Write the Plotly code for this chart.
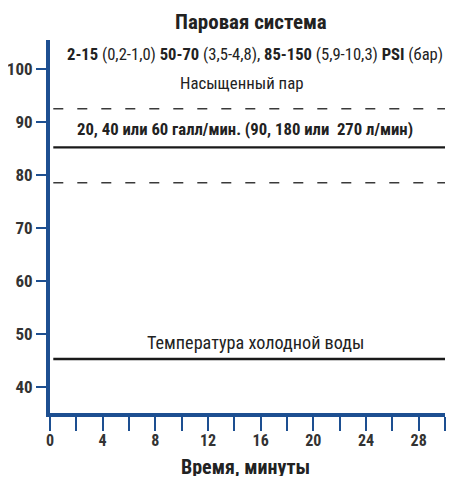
import plotly.graph_objects as go

# Data
line_names = ["Насыщенный пар (верх)", "Подача", "Насыщенный пар (низ)", "Температура холодной воды"]
line_levels = [92.5, 85.2, 78.5, 45.2]
line_dash = ["dash", "solid", "dash", "solid"]
time_span = [0.25, 30]
x_tick_vals = [0, 4, 8, 12, 16, 20, 24, 28, 30]
y_tick_vals = [40, 50, 60, 70, 80, 90, 100]

title_text = "Паровая система"
psi_text = ("<b>2-15</b> (0,2-1,0) <b>50-70</b> (3,5-4,8), <b>85-150</b> "
            "(5,9-10,3) <b>PSI</b> (бар)")
sat_text = "Насыщенный пар"
flow_text = "<b>20, 40 или 60 галл/мин. (90, 180 или  270 л/мин)</b>"
cold_text = "Температура холодной воды"
x_title = "Время, минуты"

FONT = "Roboto Condensed, Liberation Sans, sans-serif"
BLUE = "#1d4f91"
DARK = "#222222"

fig = go.Figure()
for name, lvl, d in zip(line_names, line_levels, line_dash):
    fig.add_trace(go.Scatter(
        x=time_span, y=[lvl, lvl], mode="lines", name=name,
        line=dict(color="#3a3a3a" if d == "dash" else "#1a1a1a",
                  width=1.5 if d == "dash" else 2.4,
                  dash="10px,14px" if d == "dash" else "solid"),
        showlegend=False, hoverinfo="skip"))

# page body adds an 8px margin on every side, so the figure is kept smaller
fig.update_layout(
    width=439, height=468,
    margin=dict(l=42, r=2, t=32, b=63),
    plot_bgcolor="white", paper_bgcolor="white",
    font=dict(family=FONT, color=DARK),
    showlegend=False,
)

fig.update_xaxes(
    range=[0, 30], tickvals=x_tick_vals, ticks="outside", ticklen=14,
    tickcolor=BLUE, tickwidth=2, showline=True, linecolor=BLUE, linewidth=4,
    showgrid=False, zeroline=False, automargin=False,
    tickfont=dict(size=16, family=FONT, color="#333333", weight="bold"),
    ticklabelstandoff=-4,
    minor=dict(dtick=2, tick0=0, ticks="outside", ticklen=14, tickcolor=BLUE, tickwidth=2),
)
fig.update_yaxes(
    range=[35, 105.5], tickvals=y_tick_vals, ticks="outside", ticklen=10,
    tickcolor=BLUE, tickwidth=2, showline=True, linecolor=BLUE, linewidth=4,
    showgrid=False, zeroline=False, automargin=False,
    tickfont=dict(size=17, family=FONT, color="#333333", weight="bold"),
    ticklabelstandoff=0,
)

fig.add_annotation(text="<b>" + title_text + "</b>", xref="paper", yref="paper",
                   x=0.509, y=1.048, showarrow=False, yanchor="middle",
                   font=dict(size=21, family=FONT, color=DARK))
fig.add_annotation(text=psi_text, xref="paper", yref="paper",
                   x=0.519, y=0.960, showarrow=False, yanchor="middle",
                   font=dict(size=16.6, family=FONT, color=DARK))
fig.add_annotation(text=sat_text, xref="paper", yref="paper",
                   x=0.485, y=0.885, showarrow=False, yanchor="middle",
                   font=dict(size=16.8, family=FONT, color=DARK))
fig.add_annotation(text=flow_text, xref="x", yref="paper", x=1.9, y=0.761, xanchor="left",
                   showarrow=False, yanchor="middle",
                   font=dict(size=16.7, family=FONT, color=DARK))
fig.add_annotation(text=cold_text, xref="x", yref="paper", x=15.6, y=0.188,
                   showarrow=False, yanchor="middle",
                   font=dict(size=18.2, family=FONT, color=DARK))
fig.add_annotation(text="<b>" + x_title + "</b>", xref="paper", yref="paper",
                   x=0.494, y=-0.146, showarrow=False, yanchor="middle",
                   font=dict(size=20, family=FONT, color=DARK))

fig.write_html("out.html")
